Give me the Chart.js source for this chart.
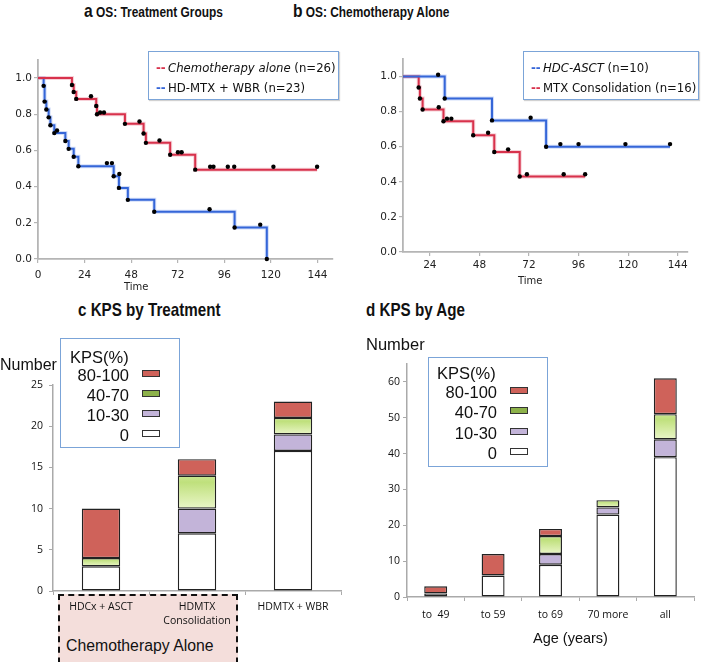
<!DOCTYPE html>
<html>
<head>
<meta charset="utf-8">
<script src="https://cdn.jsdelivr.net/npm/chart.js@4.4.1/dist/chart.umd.min.js"></script>
<style>
  body { margin: 0; background: #fff; }
  #page { position: relative; width: 710px; height: 662px; overflow: hidden; font-family: "Liberation Sans", Arial, sans-serif; color: #111; }
  .abs { position: absolute; }
  .title { position: absolute; font-weight: bold; white-space: nowrap; transform: scaleX(0.82); transform-origin: 0 0; line-height: 22px; }
  .kmbox { position: absolute; box-sizing: border-box; border: 1.5px solid #7ba4d8; background: #fff; font-family: "DejaVu Sans", sans-serif; font-size: 11.7px; box-shadow: 1px 1px 1px rgba(0,0,0,0.18); }
  .kmrow { position: absolute; white-space: nowrap; line-height: 14px; }
  .kpsbox { position: absolute; box-sizing: border-box; border: 1.5px solid #7ba4d8; background: #fff; font-size: 16.5px; }
  .kpsrow { position: absolute; left: 0; width: 68px; text-align: right; line-height: 20px; }
  .sw { position: absolute; box-sizing: border-box; width: 18px; height: 7px; border: 1px solid #333; }
  .time { position: absolute; font-family: "DejaVu Sans", sans-serif; font-size: 10px; line-height: 12px; color: #222; }
</style>
</head>
<body>
<div id="page">
  <!-- cadre "Chemotherapy Alone" derrière le graphique c -->
  <div class="abs" style="left:58px; top:594px; width:180px; height:80px; box-sizing:border-box; background:#f4dedb; border:2px dashed #111;"></div>
  <div class="abs" style="left:66px; top:636px; font-size:15.8px; line-height:20px; white-space:nowrap;">Chemotherapy Alone</div>

  <div class="abs" style="left:0; top:50px;"><canvas id="osA" width="345" height="240"></canvas></div>
  <div class="abs" style="left:355px; top:50px;"><canvas id="osB" width="345" height="240"></canvas></div>
  <div class="abs" style="left:0; top:330px;"><canvas id="kpsC" width="350" height="300"></canvas></div>
  <div class="abs" style="left:355px; top:330px;"><canvas id="kpsD" width="350" height="300"></canvas></div>

  <!-- titres -->
  <div class="title" style="left:84px; top:0; font-size:14.5px;"><span style="font-size:19px">a</span> OS: Treatment Groups</div>
  <div class="title" style="left:293px; top:0; font-size:14.5px;"><span style="font-size:19px">b</span> OS: Chemotherapy Alone</div>
  <div class="title" style="left:78px; top:299px; font-size:18.5px;">c KPS by Treatment</div>
  <div class="title" style="left:366px; top:299px; font-size:18.5px;">d KPS by Age</div>

  <div class="time" style="left:124px; top:281px;">Time</div>
  <div class="time" style="left:518px; top:275px;">Time</div>

  <!-- légende a -->
  <div class="kmbox" style="left:148px; top:51px; width:191px; height:49px;">
    <div class="kmrow" style="left:7px; top:9px; color:#d8324c; font-weight:bold;">--</div>
    <div class="kmrow" style="left:19px; top:9px;"><i>Chemotherapy alone</i> (n=26)</div>
    <div class="kmrow" style="left:7px; top:29px; color:#3566d8; font-weight:bold;">--</div>
    <div class="kmrow" style="left:19px; top:29px;">HD-MTX + WBR (n=23)</div>
  </div>
  <!-- légende b -->
  <div class="kmbox" style="left:523px; top:51px; width:176px; height:49px;">
    <div class="kmrow" style="left:7px; top:9px; color:#3566d8; font-weight:bold;">--</div>
    <div class="kmrow" style="left:19px; top:9px;"><i>HDC-ASCT</i> (n=10)</div>
    <div class="kmrow" style="left:7px; top:29px; color:#d8324c; font-weight:bold;">--</div>
    <div class="kmrow" style="left:19px; top:29px;">MTX Consolidation (n=16)</div>
  </div>

  <!-- légende c -->
  <div class="abs" style="left:0; top:355px; font-size:16px; line-height:20px;">Number</div>
  <div class="kpsbox" style="left:60px; top:338px; width:120px; height:110px;">
    <div class="abs" style="left:9px; top:8px; line-height:20px;">KPS(%)</div>
    <div class="kpsrow" style="top:26px;">80-100</div>
    <div class="kpsrow" style="top:46px;">40-70</div>
    <div class="kpsrow" style="top:66px;">10-30</div>
    <div class="kpsrow" style="top:86px;">0</div>
    <div class="sw" style="left:81px; top:31px; background:#cf625a;"></div>
    <div class="sw" style="left:81px; top:51px; background:#8db24a;"></div>
    <div class="sw" style="left:81px; top:71px; background:#c3b4d9;"></div>
    <div class="sw" style="left:81px; top:91px; background:#fff;"></div>
  </div>

  <!-- légende d -->
  <div class="abs" style="left:366px; top:334px; font-size:16.5px; line-height:20px;">Number</div>
  <div class="kpsbox" style="left:428px; top:357px; width:120px; height:110px;">
    <div class="abs" style="left:8px; top:5px; line-height:20px;">KPS(%)</div>
    <div class="kpsrow" style="top:24px;">80-100</div>
    <div class="kpsrow" style="top:44px;">40-70</div>
    <div class="kpsrow" style="top:65px;">10-30</div>
    <div class="kpsrow" style="top:85px;">0</div>
    <div class="sw" style="left:81px; top:29px; background:#cf625a;"></div>
    <div class="sw" style="left:81px; top:49px; background:#8db24a;"></div>
    <div class="sw" style="left:81px; top:70px; background:#c3b4d9;"></div>
    <div class="sw" style="left:81px; top:90px; background:#fff;"></div>
  </div>
  <div class="abs" style="left:533px; top:629px; font-size:14.5px; line-height:18px;">Age (years)</div>
</div>

<script>
// --- DONNÉES : survie (courbes de Kaplan-Meier) ---
const OS_X_TICKS = [0, 24, 48, 72, 96, 120, 144];
const OS_B_X_TICKS = [24, 48, 72, 96, 120, 144];
const OS_Y_TICKS = [0, 0.2, 0.4, 0.6, 0.8, 1.0];

// a : Chemotherapy alone (n=26)
const A_CHEMO_T = [0, 17.5, 18.4, 19.7, 30.0, 30.4, 44.8, 54.4, 55.6, 68.1, 81.0];
const A_CHEMO_S = [1, 0.962, 0.923, 0.885, 0.846, 0.800, 0.747, 0.694, 0.642, 0.576, 0.494];
const A_CHEMO_END = 143.8;
const A_CHEMO_CENS_T = [27.3, 32.0, 34.0, 52.3, 62.6, 72.1, 74.0, 88.7, 90.4, 97.8, 101.1, 121.3, 143.8];
const A_CHEMO_CENS_S = [0.90, 0.81, 0.81, 0.76, 0.655, 0.59, 0.59, 0.51, 0.51, 0.51, 0.51, 0.51, 0.51];

// a : HD-MTX + WBR (n=23)
const A_WBR_T = [0, 2.9, 3.4, 4.3, 5.5, 6.4, 8.4, 14.1, 15.8, 18.4, 20.8, 39.0, 41.7, 46.3, 59.9, 101.3, 117.9];
const A_WBR_S = [1, 0.957, 0.870, 0.826, 0.783, 0.739, 0.696, 0.652, 0.609, 0.565, 0.513, 0.457, 0.393, 0.327, 0.261, 0.174, 0.0];
const A_WBR_END = null;
const A_WBR_CENS_T = [9.8, 35.5, 38.1, 41.9, 88.4, 114.5];
const A_WBR_CENS_S = [0.71, 0.53, 0.53, 0.47, 0.275, 0.19];

// b : HDC-ASCT (n=10)
const B_ASCT_T = [11, 31.2, 54.1, 80.3];
const B_ASCT_S = [1, 0.875, 0.75, 0.60];
const B_ASCT_END = 140.3;
const B_ASCT_CENS_T = [28.0, 72.8, 87.2, 96.0, 118.7, 140.3];
const B_ASCT_CENS_S = [1.01, 0.765, 0.615, 0.615, 0.615, 0.615];

// b : MTX Consolidation (n=16)
const B_MTX_T = [11, 18.6, 19.2, 20.5, 30.6, 45.0, 55.2, 67.5];
const B_MTX_S = [1, 0.9375, 0.875, 0.8125, 0.745, 0.665, 0.57, 0.43];
const B_MTX_END = 99.2;
const B_MTX_CENS_T = [28.3, 32.3, 34.4, 52.2, 61.9, 71.0, 88.8, 99.2];
const B_MTX_CENS_S = [0.825, 0.76, 0.76, 0.68, 0.585, 0.443, 0.443, 0.443];

// --- DONNÉES : KPS ---
const TREAT_LABELS = [['HDCx + ASCT'], ['HDMTX', 'Consolidation'], ['HDMTX + WBR']];
const TREAT_KPS_0 = [3, 7, 17];
const TREAT_KPS_10_30 = [0, 3, 2];
const TREAT_KPS_40_70 = [1, 4, 2];
const TREAT_KPS_80_100 = [6, 2, 2];
const TREAT_Y_TICKS = [0, 5, 10, 15, 20, 25];

const AGE_LABELS = ['to  49', 'to 59', 'to 69', '70 more', 'all'];
const AGE_KPS_0 = [1, 6, 9, 23, 39];
const AGE_KPS_10_30 = [0, 0, 3, 2, 5];
const AGE_KPS_40_70 = [0, 0, 5, 2, 7];
const AGE_KPS_80_100 = [2, 6, 2, 0, 10];
const AGE_Y_TICKS = [0, 10, 20, 30, 40, 50, 60];

const RED = '#d8324c', RED_HALO = 'rgba(236,140,158,0.4)';
const BLUE = '#3566d8', BLUE_HALO = 'rgba(140,170,240,0.4)';

// --- COURBES DE SURVIE ---
function stepPoints(times, surv, end) {
    const pts = times.map((t, i) => ({ x: t, y: surv[i] }));
    if (end != null) pts.push({ x: end, y: surv[surv.length - 1] });
    return pts;
}

function kmDatasets(times, surv, end, censT, censS, color, halo) {
    const pts = stepPoints(times, surv, end);
    const last = pts.length - 1;
    return [
        { // sujets censurés
            data: censT.map((t, i) => ({ x: t, y: censS[i] })),
            showLine: false, pointRadius: 2.2, pointBackgroundColor: '#000',
            pointBorderWidth: 0, order: 0, clip: false
        },
        {
            data: pts, stepped: true, borderColor: color, borderWidth: 2, fill: false,
            pointRadius: c => (c.dataIndex === 0 || (end != null && c.dataIndex === last)) ? 0 : 2.2,
            pointBackgroundColor: '#000', pointBorderWidth: 0, order: 1, clip: false
        },
        { // halo clair autour du trait
            data: pts, stepped: true, borderColor: halo, borderWidth: 4, fill: false,
            pointRadius: 0, order: 2, clip: false
        }
    ];
}

function kmOptions(xMin, xMax, xTicks, yWidth, xHeight, padding, xTickPad) {
    const tickFont = { family: 'DejaVu Sans', size: 10.5 };
    return {
        responsive: false,
        animation: false,
        devicePixelRatio: 1,
        layout: { padding: padding },
        plugins: { legend: { display: false }, tooltip: { enabled: false } },
        scales: {
            x: {
                type: 'linear', min: xMin, max: xMax,
                afterBuildTicks: s => { s.ticks = xTicks.map(v => ({ value: v })); },
                afterFit: s => { s.height = xHeight; },
                grid: { drawOnChartArea: false, tickLength: 4, color: '#b5b5b5', lineWidth: 1.2 },
                border: { color: '#b5b5b5', width: 1.8 },
                ticks: { font: tickFont, color: '#222', padding: xTickPad, maxRotation: 0, autoSkip: false }
            },
            y: {
                min: 0, max: 1.1,
                afterBuildTicks: s => { s.ticks = OS_Y_TICKS.map(v => ({ value: v })); },
                afterFit: s => { s.width = yWidth; },
                grid: { drawOnChartArea: false, tickLength: 4, color: '#b5b5b5', lineWidth: 1.2 },
                border: { color: '#b5b5b5', width: 1.8 },
                ticks: { font: tickFont, color: '#222', padding: 2, callback: v => v.toFixed(1) }
            }
        }
    };
}

new Chart(document.getElementById('osA'), {
    type: 'line',
    data: {
        datasets: [
            ...kmDatasets(A_CHEMO_T, A_CHEMO_S, A_CHEMO_END, A_CHEMO_CENS_T, A_CHEMO_CENS_S, RED, RED_HALO),
            ...kmDatasets(A_WBR_T, A_WBR_S, A_WBR_END, A_WBR_CENS_T, A_WBR_CENS_S, BLUE, BLUE_HALO)
        ]
    },
    options: kmOptions(0, 152, OS_X_TICKS, 38, 31, { top: 10, right: 12, left: 0, bottom: 0 }, 6)
});

new Chart(document.getElementById('osB'), {
    type: 'line',
    data: {
        datasets: [
            ...kmDatasets(B_ASCT_T, B_ASCT_S, B_ASCT_END, B_ASCT_CENS_T, B_ASCT_CENS_S, BLUE, BLUE_HALO),
            ...kmDatasets(B_MTX_T, B_MTX_S, B_MTX_END, B_MTX_CENS_T, B_MTX_CENS_S, RED, RED_HALO)
        ]
    },
    options: kmOptions(11, 149, OS_B_X_TICKS, 48, 38, { top: 9, right: 12, left: 0, bottom: 0 }, 3)
});

// --- BARRES EMPILÉES KPS ---
// dégradé vert calculé depuis l'échelle y de Chart.js
function greenFill(ctx) {
    const chart = ctx.chart;
    const yScale = chart.scales.y;
    if (ctx.type !== 'data' || !yScale) return '#cde89a';
    const ds = chart.data.datasets;
    let bottom = 0;
    for (let i = 0; i < ctx.datasetIndex; i++) bottom += ds[i].data[ctx.dataIndex];
    const top = bottom + ds[ctx.datasetIndex].data[ctx.dataIndex];
    const y0 = yScale.getPixelForValue(top);
    const y1 = yScale.getPixelForValue(bottom);
    if (!isFinite(y0) || !isFinite(y1) || y0 === y1) return '#cde89a';
    const g = chart.ctx.createLinearGradient(0, y0, 0, y1);
    g.addColorStop(0, '#cbe792');
    g.addColorStop(0.2, '#bfe07c');
    g.addColorStop(1, '#eaf6c8');
    return g;
}

function kpsDatasets(v0, v10, v40, v80) {
    const common = { borderColor: '#222', borderWidth: 1.4, borderSkipped: false, barPercentage: 0.4, categoryPercentage: 1 };
    return [
        { label: '0', data: v0, backgroundColor: '#fff', ...common },
        { label: '10-30', data: v10, backgroundColor: '#c3b4d9', ...common },
        { label: '40-70', data: v40, backgroundColor: greenFill, ...common },
        { label: '80-100', data: v80, backgroundColor: '#cf625a', ...common }
    ];
}

function kpsOptions(yMax, yTicks, yWidth, xHeight, padding, yTickPad, xTickPad) {
    const tickFont = { family: 'Open Sans', size: 10.5, lineHeight: 1.35 };
    return {
        responsive: false,
        animation: false,
        devicePixelRatio: 1,
        layout: { padding: padding },
        plugins: { legend: { display: false }, tooltip: { enabled: false } },
        scales: {
            x: {
                stacked: true,
                afterFit: s => { s.height = xHeight; },
                grid: { drawOnChartArea: false, tickLength: 4, color: '#aaa', offset: true },
                border: { color: '#aaa', width: 1.5 },
                ticks: { font: tickFont, color: '#111', padding: xTickPad, maxRotation: 0, autoSkip: false }
            },
            y: {
                stacked: true, min: 0, max: yMax,
                afterBuildTicks: s => { s.ticks = yTicks.map(v => ({ value: v })); },
                afterFit: s => { s.width = yWidth; },
                grid: { drawOnChartArea: false, tickLength: 4, color: '#aaa' },
                border: { color: '#aaa', width: 1.5 },
                ticks: { font: { family: 'Open Sans', size: 10.5 }, color: '#111', padding: yTickPad }
            }
        }
    };
}

new Chart(document.getElementById('kpsC'), {
    type: 'bar',
    data: {
        labels: TREAT_LABELS,
        datasets: kpsDatasets(TREAT_KPS_0, TREAT_KPS_10_30, TREAT_KPS_40_70, TREAT_KPS_80_100)
    },
    options: kpsOptions(25, TREAT_Y_TICKS, 53, 39, { top: 55, right: 9, left: 0, bottom: 0 }, 6, 5)
});

new Chart(document.getElementById('kpsD'), {
    type: 'bar',
    data: {
        labels: AGE_LABELS,
        datasets: kpsDatasets(AGE_KPS_0, AGE_KPS_10_30, AGE_KPS_40_70, AGE_KPS_80_100)
    },
    options: kpsOptions(65, AGE_Y_TICKS, 52, 33, { top: 34, right: 11, left: 0, bottom: 0 }, 3, 7)
});
</script>
</body>
</html>
